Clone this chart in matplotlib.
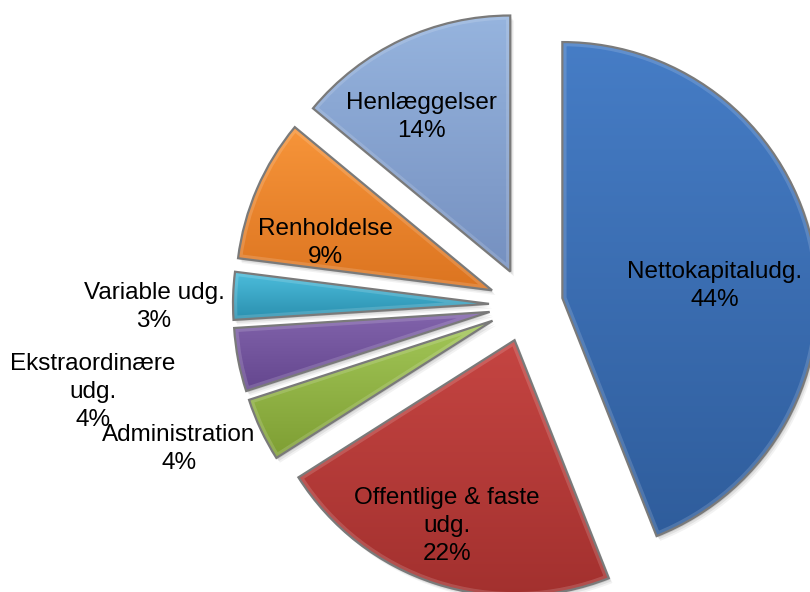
import numpy as np
import matplotlib
matplotlib.use("Agg")
import matplotlib.pyplot as plt
from matplotlib.patches import Wedge
from matplotlib.colors import to_rgb

# ---- data ----
categories = ["Nettokapitaludg.", "Offentlige & faste\nudg.", "Administration",
              "Ekstraordinære\nudg.", "Variable udg.", "Renholdelse", "Henlæggelser"]
shares = [44, 22, 4, 4, 3, 9, 14]
pct_labels = ["44%", "22%", "4%", "4%", "3%", "9%", "14%"]

# ---- styling ----
top_colors = ["#467DC6", "#C54542", "#A3C758", "#8264AC", "#4DBEDD", "#F7953A", "#96B4DE"]
bot_colors = ["#2F5D9C", "#A2302E", "#7E9E33", "#64468E", "#2A8FAE", "#DC7420", "#7590C0"]
label_pos = [(715, 286), (447, 526), (179, 449), (93, 392), (154, 307), (325, 243), (421, 117)]

W, H = 810, 592
plt.rcParams['font.family'] = ['Liberation Sans', 'DejaVu Sans']
fig = plt.figure(figsize=(W / 100, H / 100), dpi=100)
ax = fig.add_axes([0, 0, 1, 1])

wedges, _ = ax.pie(shares, radius=256, center=(526, H - 305), startangle=90,
                   counterclock=False, explode=[37] * len(shares), frame=True,
                   wedgeprops=dict(edgecolor="#7a7a7a", linewidth=1.6))

for w, c1, c2 in zip(wedges, top_colors, bot_colors):
    # soft drop shadow
    for k, a in [(6, 0.05), (4, 0.07), (2, 0.09)]:
        sh = Wedge((w.center[0] + k * 0.6, w.center[1] - k * 0.8), w.r, w.theta1, w.theta2,
                   facecolor="black", edgecolor="none", alpha=a, zorder=1)
        ax.add_patch(sh)
    v = w.get_path().vertices
    xmin, ymin = v.min(axis=0)
    xmax, ymax = v.max(axis=0)
    n = 200
    t = np.linspace(0, 1, n)[:, None]  # 0 bottom -> 1 top
    col = (1 - t) * np.array(to_rgb(c2)) + t * np.array(to_rgb(c1))
    img = np.repeat(col[:, None, :], 2, axis=1)
    im = ax.imshow(img, extent=(xmin, xmax, ymin, ymax), origin="lower",
                   interpolation="bilinear", aspect="auto", zorder=2)
    im.set_clip_path(w)
    # bevel highlight
    hl = Wedge(w.center, w.r, w.theta1, w.theta2, facecolor="none",
               edgecolor="white", linewidth=6, alpha=0.15, zorder=2.5)
    ax.add_patch(hl)
    hl.set_clip_path(w)
    w.set_facecolor("none")
    w.set_zorder(3)

for cat, pct, (x, y) in zip(categories, pct_labels, label_pos):
    ax.text(x, H - y, f"{cat}\n{pct}", ha="center", va="center", fontsize=17.5,
            color="black", linespacing=1.33, zorder=5)

ax.set_xlim(0, W)
ax.set_ylim(0, H)
ax.set_aspect("equal")
ax.axis("off")
fig.savefig("out.png", dpi=100)
